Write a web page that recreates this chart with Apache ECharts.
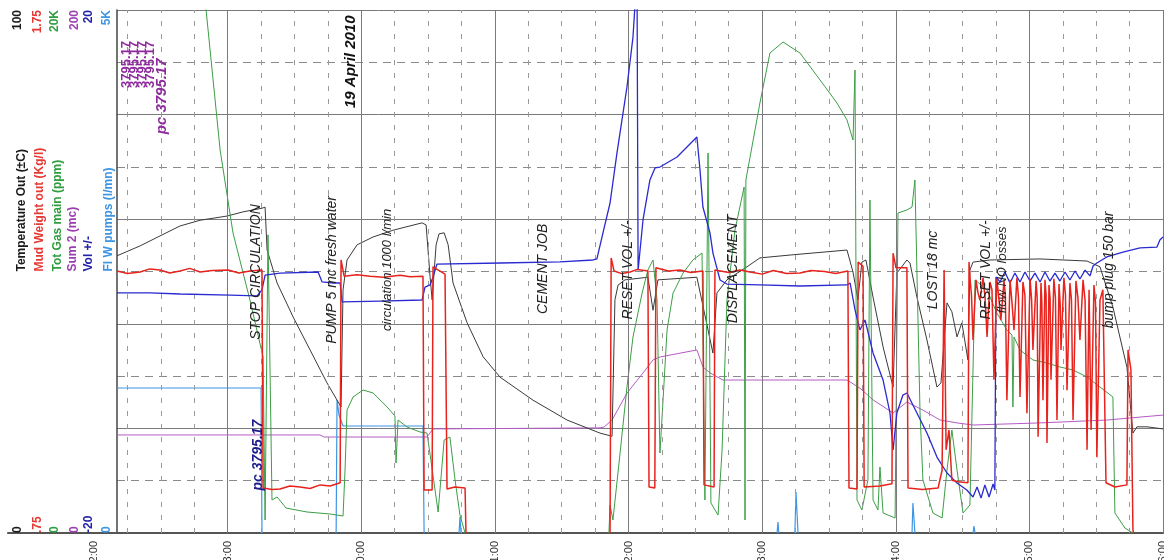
<!DOCTYPE html>
<html><head><meta charset="utf-8">
<script src="https://cdn.jsdelivr.net/npm/echarts@6.0.0/dist/echarts.min.js"></script>
<style>html,body{margin:0;padding:0;background:#fff}#c{width:1164px;height:560px}</style>
</head><body><div id="c"></div>
<script>
// x values: minutes after 22:00 on 19 April 2010
const hourLabels = ['22:00','23:00','00:00','01:00','02:00','03:00','04:00','05:00','06:00'];
const axisNames = ['Temperature Out (±C)','Mud Weight out (Kg/l)','Tot Gas main (ppm)','Sum 2 (mc)','Vol +/-','Fl W pumps (l/mn)'];
const axisMin = [0, 0.75, 0, 0, -20, 0];
const axisMax = [100, 1.75, 20000, 200, 20, 5000];
const axisTickLabels = [['0','100'],['.75','1.75'],['0','20K'],['0','200'],['-20','20'],['0','5K']];
const timeStart = 10.3, timeEnd = 480;

const temperatureOut = [[10.3,53.0],[20.7,54.9],[29.6,56.8],[38.6,58.7],[47.6,59.8],[59.7,60.6],[66.9,61.4],[75.4,62.1],[76.8,62.3],[77.7,54.1],[82.2,47.8],[89.4,41.3],[97.0,35.0],[104.6,28.7],[110.9,24.1],[111.8,46.5],[113.6,52.2],[118.1,55.1],[125.3,56.6],[134.3,57.9],[147.3,59.3],[149.1,58.9],[150.9,48.9],[151.8,44.6],[153.6,55.1],[154.9,57.2],[157.2,57.4],[159.0,55.1],[161.2,47.8],[167.5,40.2],[174.7,33.7],[182.3,29.8],[197.1,25.4],[212.4,21.6],[227.2,19.1],[232.6,18.5],[233.9,44.6],[235.3,47.4],[238.4,48.4],[248.7,48.9],[251.0,42.6],[253.2,48.4],[270.7,48.9],[277.9,34.4],[279.7,45.9],[284.2,48.4],[293.2,50.9],[299.0,52.6],[313.9,53.2],[338.1,54.1],[340.8,49.9],[343.0,44.6],[344.8,51.8],[346.6,52.2],[349.8,45.1],[354.3,35.6],[358.8,27.9],[360.5,49.7],[365.0,52.2],[366.4,51.6],[369.5,45.1],[374.0,36.9],[378.5,27.9],[380.3,28.7],[383.0,44.0],[385.2,42.3],[387.5,37.5],[389.7,40.2],[392.4,33.1],[393.3,50.3],[394.7,51.8],[402.3,52.2],[424.8,52.4],[445.9,52.0],[451.7,50.9],[457.5,43.2],[463.8,31.7],[466.5,19.1],[468.3,20.3],[472.8,20.3],[480,19.9]];

const mudWeightOut = [[10.3,1.251],[15,1.246],[20.7,1.249],[25,1.255],[29.6,1.253],[34,1.247],[38.6,1.251],[43,1.256],[47.6,1.249],[53,1.252],[60.2,1.253],[65,1.247],[70.0,1.251],[75.4,1.253],[75.9,0.836],[80,0.833],[83.5,0.834],[88,0.840],[92.5,0.838],[97,0.835],[101.5,0.842],[106,0.840],[110.5,0.846],[110.9,1.272],[112.3,1.241],[118,1.244],[123.9,1.241],[130,1.239],[137.4,1.243],[142,1.240],[147.7,1.241],[148.2,0.832],[151.8,0.832],[152.2,1.259],[157.6,1.245],[158.5,0.834],[162,0.838],[166.6,0.836],[167.0,0.75],[200,null],[231.7,0.75],[232.2,1.276],[233.5,1.251],[237,1.246],[240.7,1.249],[244,1.254],[248.7,1.251],[249.2,0.838],[251.8,0.836],[252.3,1.257],[258,1.251],[263.1,1.253],[268,1.248],[273.4,1.251],[273.9,0.842],[278.4,0.838],[278.8,1.253],[285,1.248],[290,1.253],[294.5,1.249],[300,1.245],[305,1.252],[311,1.246],[317.0,1.247],[322,1.252],[328,1.250],[333,1.246],[338.5,1.251],[339.0,0.836],[342.6,0.834],[343.1,1.268],[345.3,1.260],[345.8,0.838],[352.9,0.840],[358.3,0.844],[358.8,1.285],[360.1,1.257],[365.0,1.257],[365.5,0.836],[372,0.833],[379.0,0.836],[380.8,0.870],[381.7,1.253],[382.6,0.909],[383.9,0.947],[385.2,0.851],[388,0.848],[392.4,0.846],[392.9,1.268],[393.3,1.239],[394.0,1.205],[394.7,1.119],[396.0,1.234],[396.9,1.210],[397.8,1.195],[399.2,1.238],[400.1,1.200],[401.0,1.125],[402.3,1.230],[403.2,1.215],[404.1,1.043],[405.4,1.236],[406.3,1.198],[407.2,1.157],[408.6,1.232],[409.2,1.205],[409.9,1.004],[411.3,1.234],[412.2,1.190],[413.1,1.138],[414.4,1.238],[415.1,1.200],[415.8,1.010],[417.1,1.230],[418.0,1.205],[418.9,0.979],[420.3,1.236],[421.0,1.196],[421.6,1.100],[423.0,1.232],[423.5,1.200],[423.9,0.934],[425.2,1.228],[425.6,1.190],[426.1,1.004],[427.0,1.234],[427.5,1.205],[427.9,0.922],[428.8,1.224],[429.3,1.198],[429.7,1.043],[431.0,1.236],[431.7,1.200],[432.4,0.966],[433.3,1.226],[433.8,1.190],[434.2,1.100],[435.5,1.238],[436.2,1.205],[436.9,1.023],[438.2,1.228],[438.9,1.196],[439.6,0.966],[440.9,1.232],[441.8,1.200],[442.7,1.119],[444.1,1.234],[445.0,1.195],[445.9,0.909],[446.8,1.215],[447.7,0.947],[449.0,1.224],[449.7,1.190],[450.3,0.895],[451.7,1.195],[453.0,1.215],[454.4,0.846],[458.4,0.838],[463.8,0.842],[464.3,1.100],[465.6,1.062],[466.5,0.756],[466.8,0.75],[472,null]];

const totGasMain = [[44.0,23500],[50.3,20000],[56.6,14650],[62.4,11470],[70.0,8910],[75.9,6730],[76.8,497],[78.1,11400],[79.9,1262],[82.2,1377],[86.2,956],[95.6,803],[106.0,727],[111.8,650],[112.7,2409],[113.6,4704],[116.3,5201],[120.8,5468],[125.3,5354],[131.6,4818],[135.1,4474],[135.6,2677],[136.5,4321],[140.5,4053],[146.4,3862],[149.5,3824],[151.3,2753],[154.5,803],[157.2,3556],[159.8,3671],[162.1,2027],[164.3,688],[166.6,0],[200,null],[231.2,0],[231.7,1071],[233.0,497],[236.2,3059],[239.3,5583],[242.0,7495],[246.1,9178],[248.7,10057],[251.0,10440],[252.8,8910],[254.1,3059],[255.5,5086],[257.3,7763],[260.0,9178],[264.5,9942],[268.9,10440],[273.0,10707],[274.3,1262],[275.7,14531],[277.0,1147],[280.2,688],[282.0,3174],[284.2,8910],[287.8,11587],[291.9,13231],[292.3,497],[292.7,13499],[299.0,16443],[303.5,18355],[309.4,18776],[317.0,18355],[326.0,17323],[333.6,16443],[338.1,15793],[340.8,15028],[341.7,17705],[342.6,1262],[344.8,880],[347.5,2027],[348.4,12734],[349.8,1262],[352.0,880],[352.9,2524],[354.3,765],[359.7,574],[361.0,12237],[365.0,12352],[367.3,12466],[368.6,13499],[370.9,4589],[372.2,2027],[376.7,765],[380.8,574],[383.0,2409],[385.2,3939],[387.5,2409],[390.2,765],[393.3,1071],[395.6,9675],[401.0,9292],[405.4,8413],[409.9,7763],[412.2,7572],[412.6,4818],[413.1,7495],[415.8,6998],[421.6,6616],[427.9,6501],[433.7,6348],[439.6,6233],[445.9,5965],[451.7,5583],[457.5,5201],[458.4,765],[462.9,191],[466.5,0],[472,null]];

const sum2 = [[10.3,37.5],[101.5,37.5],[103.3,36.7],[149.5,36.7],[152.2,39.8],[227.2,40.2],[229.0,40.5],[232.6,43.2],[239.3,53.5],[246.5,61.2],[251.0,66.2],[254.1,67.3],[270.7,70.0],[273.4,63.5],[276.6,61.2],[282.4,58.5],[338.1,58.5],[343.9,55.4],[349.8,50.9],[358.8,45.9],[365.0,50.1],[372.2,47.0],[379.9,43.2],[387.5,42.1],[394.7,41.3],[424.8,42.1],[454.8,43.2],[480,45.1]];

const volPlusMinus = [[10.3,-1.64],[25.1,-1.64],[38.6,-1.72],[61.1,-1.80],[73.2,-1.87],[75.4,-1.41],[76.8,-0.27],[83.5,-0.12],[100.6,-0.04],[102.4,-0.80],[107.3,-0.88],[110.5,-0.88],[111.4,-2.33],[128.4,-2.26],[147.3,-2.18],[148.6,-1.19],[150.9,-1.03],[152.2,-0.42],[154.0,0.57],[182.3,0.65],[209.2,0.73],[224.1,0.88],[225.8,0.96],[228.5,2.94],[231.7,5.24],[234.8,9.06],[239.3,14.11],[242.0,17.93],[243.8,22.8],[244.3,0.11],[246.5,3.94],[249.6,7.00],[251.9,7.92],[254.1,7.99],[261.8,8.76],[270.7,10.29],[271.2,10.44],[272.1,7.76],[273.4,4.93],[276.6,2.94],[277.9,1.41],[281.1,-0.65],[284.2,-0.96],[299.0,-1.03],[317.0,-1.11],[338.1,-1.03],[339.5,-0.88],[341.7,-2.94],[343.9,-4.47],[346.2,-3.71],[349.8,-6.23],[354.3,-8.30],[357.4,-10.82],[358.8,-13.65],[360.5,-10.82],[363.2,-9.45],[365.0,-9.29],[369.5,-10.82],[374.0,-12.35],[378.5,-14.19],[383.0,-15.41],[387.5,-16.18],[391.9,-16.71],[394.7,-17.25],[396.5,-16.48],[398.3,-17.33],[400.0,-16.33],[401.9,-17.25],[403.7,-16.25],[404.5,-16.71],[405.0,-0.42],[406.8,-0.80],[409.0,-0.04],[411.3,-0.88],[413.5,-0.12],[415.8,-0.80],[418.0,-0.04],[420.3,-0.73],[422.5,-0.12],[424.8,-0.80],[427.0,-0.04],[429.2,-0.73],[431.5,-0.12],[433.7,-0.73],[436.0,-0.04],[438.2,-0.65],[440.5,0.04],[442.7,-0.57],[445.0,0.11],[447.2,-0.34],[448.6,0.42],[450.3,0.65],[454.8,1.11],[462.0,1.49],[469.7,1.80],[477.3,1.87],[478.6,2.41],[480,2.64]];

const flowPumps = [[10.3,1386],[75.0,1386],[75.4,0],[90,null],[108.7,0],[109.1,1271],[110.0,1128],[111.8,1023],[147.7,1023],[148.2,0],[155,null],[163.9,0],[164.3,153],[164.8,0],[200,null],[306.7,0],[307.1,105],[307.5,0],[311,null],[314.7,0],[315.2,392],[316.1,0],[340,null],[367.3,0],[367.7,287],[368.6,0],[380,null],[394.7,0],[395.1,67],[395.6,0]];

// annotations: text, minute, value on the temperature axis
const annotations = [
  ['STOP CIRCULATION',72.7,49.9],['PUMP 5 mc fresh water',106.9,50.3],['circulation 1000 l/min',131.6,50.3],
  ['CEMENT JOB',201.6,50.5],['19 April 2010',115.4,90.1],['RESET VOL +/-',239.8,50.3],['DISPLACEMENT',286.9,50.5],
  ['LOST 18 mc',376.7,50.3],['RESET VOL +/-',400.5,50.3],['flow NO losses',407.7,50.3],['bump plug 150 bar',455.7,50.3],
  ['pc 3795.17',73.6,14.9],
  ['3795.17',14.6,89.6],['3795.17',18.2,89.6],['3795.17',21.8,89.6],['3795.17',25.4,89.6],['pc 3795.17',30.3,83.5]
];

// ---------- styling ----------
const FONT = '"Liberation Sans", Arial, sans-serif';
const AX_COLORS = ['#1a1a1a','#e53935','#2e9e3e','#9c3fb0','#2222a8','#3d95e3'];
const LABEL_MARGIN = [93,73,56,36,22,4];
const NAME_GAP = [89,71,53,38,22,2];
const ANN_STYLE = annotations.map((a,i)=>{
  if (i===4) return {font:'italic bold 15px '+FONT, fill:'#111'};
  if (i===11) return {font:'italic bold 14px '+FONT, fill:'#1c1c8c'};
  if (i>=12 && i<16) return {font:'bold 13px '+FONT, fill:'#8e2c9e'};
  if (i===16) return {font:'italic bold 15px '+FONT, fill:'#8e2c9e'};
  if (i===2 || i===9) return {font:'italic 13px '+FONT, fill:'#222'};
  return {font:'italic 14px '+FONT, fill:'#222'};
});

const quarterLines = [], hourLines = [];
for (let m = 15; m <= timeEnd; m += 15) { if (m < timeStart) continue; (m % 60 === 0 ? hourLines : quarterLines).push(m); }

const chart = echarts.init(document.getElementById('c'), null, {renderer:'canvas'});

const yAxes = axisNames.map((nm,i)=>({
  gridIndex:0, type:'value', position:'left', offset:0,
  min:axisMin[i], max:axisMax[i], interval: i===0 ? 20 : axisMax[i]-axisMin[i],
  name:nm, nameLocation:'middle', nameRotate:90, nameGap:NAME_GAP[i], nameMoveOverlap:false,
  nameTextStyle:{color:AX_COLORS[i], fontWeight:'bold', fontSize:12, fontFamily:FONT, align:'left'},
  axisLine:{show:i===0, lineStyle:{color:'#444', width:1.5}},
  axisTick:{show:false},
  axisLabel:{show:true, rotate:90, margin:LABEL_MARGIN[i], color:AX_COLORS[i], fontWeight:'bold', fontSize:12, fontFamily:FONT,
    showMinLabel:true, showMaxLabel:true, alignMinLabel:'left', alignMaxLabel:'right',
    formatter:v=> Math.abs(v-axisMin[i])<1e-9 ? axisTickLabels[i][0] : (Math.abs(v-axisMax[i])<1e-9 ? axisTickLabels[i][1] : '')},
  splitLine: i===0 ? {show:true, lineStyle:{color:'#7a7a7a', width:1}} : {show:false},
  minorTick:{show:false, splitNumber:2},
  minorSplitLine: i===0 ? {show:true, lineStyle:{color:'#8a8a8a', width:1, type:[8,6]}} : {show:false}
}));
yAxes.push({gridIndex:1, type:'value', min:0, max:1, show:false});
yAxes.push({gridIndex:2, type:'value', min:0, max:1, show:false});

function lineSeries(name, data, yIdx, color, width, z){
  return {name, type:'line', xAxisIndex:0, yAxisIndex:yIdx, data, showSymbol:false, symbol:'none',
    connectNulls:false, clip:true, z, animation:false, silent:true,
    lineStyle:{color, width}, itemStyle:{color}};
}

const markData = hourLines.map(m=>({xAxis:m, lineStyle:{color:'#7a7a7a', width:1, type:'solid'}}))
  .concat(quarterLines.map(m=>({xAxis:m, lineStyle:{color:'#9a9a9a', width:1, type:[5,8]}})));

chart.setOption({
  animation:false,
  backgroundColor:'#ffffff',
  grid:[
    {left:117, right:1, top:10, bottom:27, outerBoundsMode:'none', containLabel:false},
    {left:94, right:1, top:10, bottom:27, outerBoundsMode:'none', containLabel:false},
    {left:8, right:1, top:10, bottom:27, outerBoundsMode:'none', containLabel:false}
  ],
  xAxis:[
    {gridIndex:0, type:'value', min:timeStart, max:timeEnd, axisLine:{show:false}, axisTick:{show:false}, axisLabel:{show:false}, splitLine:{show:false}},
    {gridIndex:1, type:'value', min:0, max:timeEnd, interval:60, axisLine:{show:false}, axisTick:{show:false}, splitLine:{show:false},
      axisLabel:{show:true, rotate:90, margin:8, fontSize:11, color:'#333', fontFamily:FONT, showMinLabel:true, showMaxLabel:true,
        formatter:v=>hourLabels[Math.round(v/60)] || ''}},
    {gridIndex:2, type:'value', position:'top', min:0, max:1, axisLine:{show:true, lineStyle:{color:'#666', width:1}}, axisTick:{show:false}, axisLabel:{show:false}, splitLine:{show:false}},
    {gridIndex:2, type:'value', position:'bottom', min:0, max:1, axisLine:{show:true, lineStyle:{color:'#555', width:2}}, axisTick:{show:false}, axisLabel:{show:false}, splitLine:{show:false}}
  ],
  yAxis:yAxes,
  series:[
    {type:'line', xAxisIndex:0, yAxisIndex:0, data:[], silent:true, z:1, animation:false,
      markLine:{silent:true, symbol:['none','none'], animation:false, label:{show:false}, emphasis:{disabled:true}, data:markData}},
    lineSeries('Sum 2', sum2, 3, '#b65ac6', 1, 3),
    lineSeries('Fl W pumps', flowPumps, 5, '#3d95e3', 1.2, 3),
    lineSeries('Temperature Out', temperatureOut, 0, '#3a3a3a', 1, 4),
    lineSeries('Tot Gas main', totGasMain, 2, '#3c9e46', 1, 4),
    lineSeries('Vol +/-', volPlusMinus, 4, '#2a2ad0', 1.3, 5),
    lineSeries('Mud Weight out', mudWeightOut, 1, '#e8221c', 1.5, 6)
  ]
});

const graphics = annotations.map((a,i)=>{
  const p = chart.convertToPixel({xAxisIndex:0, yAxisIndex:0}, [a[1], a[2]]);
  return {type:'text', x:p[0], y:p[1], rotation:Math.PI/2, silent:true, z:50,
    style:{text:a[0], font:ANN_STYLE[i].font, fill:ANN_STYLE[i].fill, align:'center', verticalAlign:'middle'}};
});
chart.setOption({graphic:graphics});
</script>
</body></html>
